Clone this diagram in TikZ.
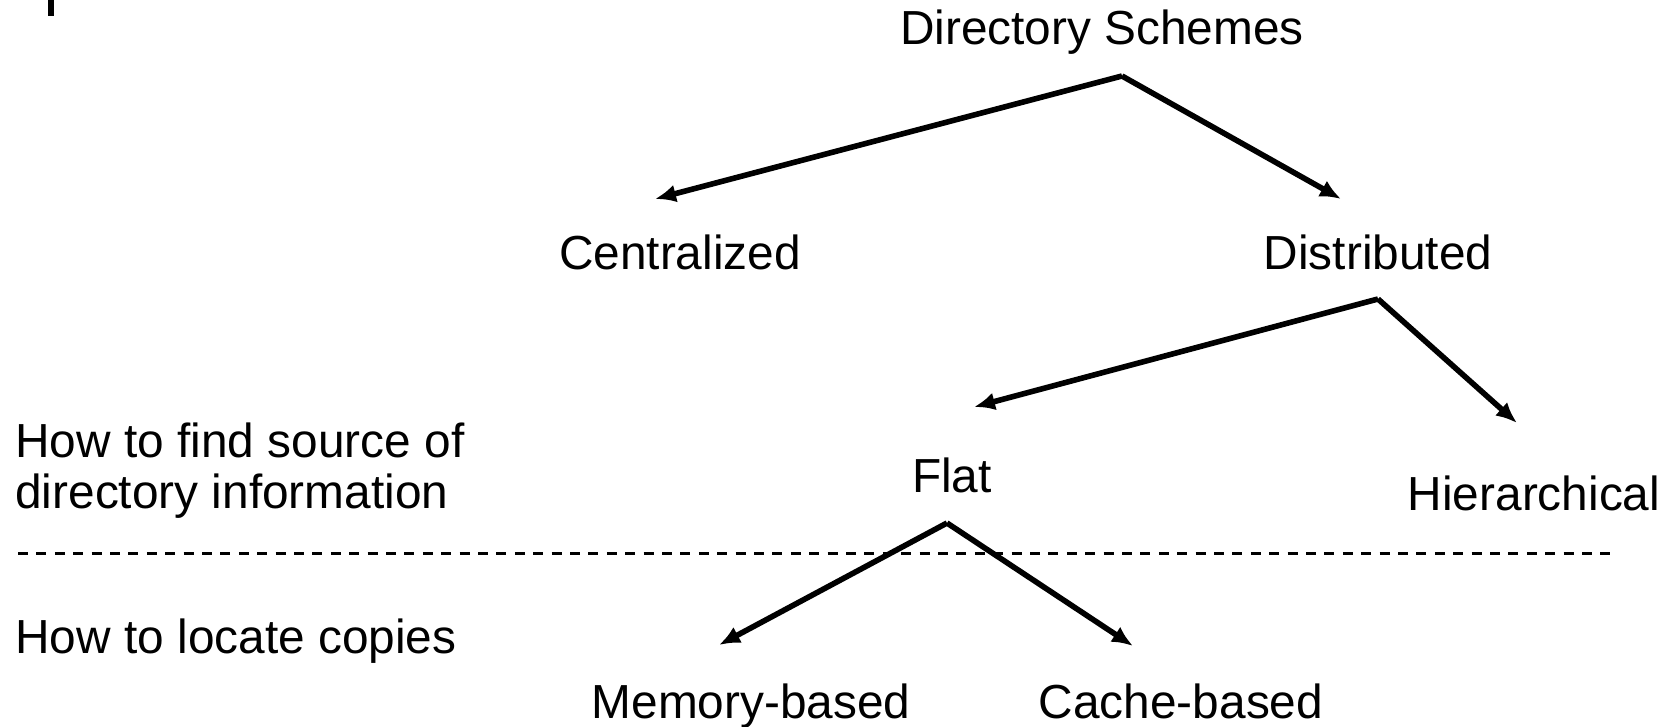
\documentclass[tikz,border=0pt]{standalone}
\usepackage{fontspec}
\setmainfont{Liberation Sans}
\usetikzlibrary{arrows.meta}

\begin{document}
\begin{tikzpicture}[x=0.5pt,y=-0.5pt,
    label/.style={font=\fontsize{23.9}{25}\selectfont,inner sep=0pt,anchor=base},
    side/.style={label,anchor=base west,align=left},
    link/.style={line width=2.8pt,-{Latex[length=10.5pt,width=9pt]}},
    split/.style={line width=1.5pt,dash pattern=on 5pt off 4.2pt}]
  \useasboundingbox (0,0) rectangle (1666,727);

  \fill (48,0) rectangle (54,16);

  \node[label] (ds)    at (1102,45)  {Directory Schemes};
  \node[label] (cen)   at (680,270)  {Centralized};
  \node[label] (dis)   at (1378,270) {Distributed};
  \node[label] (flat)  at (952,492)  {Flat};
  \node[label] (hier)  at (1534,510) {Hierarchical};
  \node[label] (mem)   at (751,718)  {Memory-based};
  \node[label] (cache) at (1181,718) {Cache-based};

  \node[side] (find)   at (15,508) {How to find source of\\directory information};
  \node[side] (locate) at (15,653) {How to locate copies};

  \coordinate (lineA) at (18,553);
  \coordinate (lineB) at (1615,553);
  \draw[split] (lineA) -- (lineB);

  \path ([shift={(20,31)}]ds.base)
      edge[link] ([shift={(-25,-71)}]cen.base)
      edge[link] ([shift={(-37,-71)}]dis.base);
  \path ([shift={(0,29)}]dis.base)
      edge[link] ([shift={(22,-85)}]flat.base)
      edge[link] ([shift={(-17,-87)}]hier.base);
  \path ([shift={(-5,31)}]flat.base)
      edge[link] ([shift={(-32,-73)}]mem.base)
      edge[link] ([shift={(-48,-72)}]cache.base);

\end{tikzpicture}
\end{document}
